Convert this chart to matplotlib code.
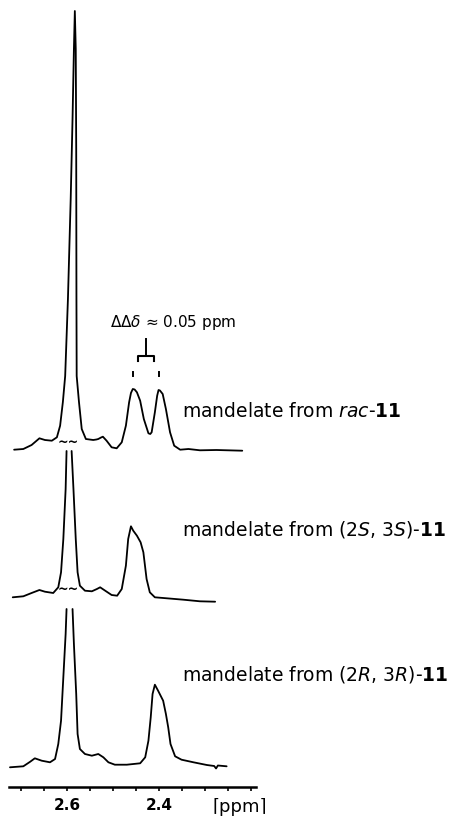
import numpy as np
import matplotlib
matplotlib.use("Agg")
import matplotlib.pyplot as plt

nan = np.nan

# spectrum from rac-11 (chemical shift in ppm, intensity above baseline)
ppm_rac = [2.715, 2.695, 2.677, 2.660, 2.648, 2.633, 2.622, 2.615, 2.609, 2.604,
           2.598, 2.592, 2.588, 2.585, 2.583, 2.581, 2.580, 2.5795, 2.579, 2.574,
           2.568, 2.559, 2.543, 2.536, 2.532, 2.526, 2.522, 2.514, 2.503, 2.492,
           2.481, 2.472, 2.465, 2.461, 2.457, 2.453, 2.448, 2.441, 2.433, 2.423,
           2.419, 2.416, 2.409, 2.404, 2.401, 2.398, 2.392, 2.385, 2.376, 2.367,
           2.354, 2.336, 2.311, 2.275, 2.219]
int_rac = [0.3, 1, 5, 11.7, 10, 9.3, 12.7, 24.3, 48, 74,
           151, 251, 331, 401, 439, 401, 301, 151, 74, 48,
           21, 11, 10, 10.5, 11, 12.5, 13.3, 9.3, 2.7, 1.7,
           7.7, 24.3, 47.7, 57, 61, 60.5, 57.7, 49.3, 31, 16.7,
           16, 17.7, 37.7, 54.3, 60, 59.5, 56, 41, 17.7, 4.3,
           0.3, 1, -0.3, 0, -0.7]

# spectrum from (2S,3S)-11, big peak cut off (nan = gap)
ppm_ss = [2.718, 2.695, 2.677, 2.660, 2.648, 2.630, 2.619, 2.613, 2.608, 2.603,
          2.601, nan, 2.590, 2.586, 2.581, 2.577, 2.572, 2.561, 2.546, 2.535,
          2.528, 2.517, 2.503, 2.491, 2.481, 2.472, 2.467, 2.461, 2.456, 2.448,
          2.440, 2.434, 2.427, 2.420, 2.409, 2.383, 2.347, 2.311, 2.278]
int_ss = [-0.3, 0.7, 4, 7, 5.3, 4, 9.7, 24.7, 58, 108,
          146, nan, 146, 108, 58, 24.7, 11.3, 6.3, 5.7, 8,
          9.7, 6.3, 2, 1.3, 8, 31.3, 58, 70.7, 66.3, 61.3,
          54.7, 44.7, 18, 4.7, -0.3, -1.3, -2.7, -4.3, -4.7]

# spectrum from (2R,3R)-11
ppm_rr = [2.724, 2.695, 2.680, 2.670, 2.655, 2.637, 2.626, 2.619, 2.613, 2.608,
          2.603, 2.601, nan, 2.588, 2.585, 2.580, 2.577, 2.572, 2.561, 2.546,
          2.532, 2.521, 2.510, 2.496, 2.470, 2.441, 2.430, 2.423, 2.418, 2.414,
          2.409, 2.402, 2.391, 2.385, 2.380, 2.375, 2.365, 2.351, 2.325, 2.296,
          2.280, 2.276, 2.272, 2.253]
int_rr = [-0.3, 0.7, 5.3, 8.7, 6.3, 4.7, 8, 23, 46.3, 89.7,
          133, 158, nan, 158, 123, 73, 33, 18, 13, 11.3,
          13, 9.7, 4.7, 2.3, 2.3, 3.7, 9.7, 26.3, 49.7, 73,
          82.3, 76.3, 66.3, 53, 39.7, 23, 10.7, 7.3, 4.7, 2,
          1, -1.5, 1.5, 0.7]

labels = [r"mandelate from $\mathit{rac}$-$\mathbf{11}$",
          r"mandelate from (2$\mathit{S}$, 3$\mathit{S}$)-$\mathbf{11}$",
          r"mandelate from (2$\mathit{R}$, 3$\mathit{R}$)-$\mathbf{11}$"]

doublet_ppm = [2.457, 2.400]
major_ticks = [2.6, 2.4]
major_labels = ["2.6", "2.4"]
minor_ticks = [2.70, 2.65, 2.60, 2.55, 2.50, 2.45, 2.40, 2.35, 2.30, 2.25, 2.20]

# layout (vertical stacking, in figure-pixel-like units)
offsets = [369, 222, 52]
label_y = [34, 62, 87]
cut_mark_ppm = 2.598

fig = plt.figure(figsize=(4.56, 8.2), dpi=100)
ax = fig.add_axes([0, 0, 1, 1])
ax.set_xlim(2.7457, 1.7543)
ax.set_ylim(0, 820)

spectra = [(ppm_rac, int_rac), (ppm_ss, int_ss), (ppm_rr, int_rr)]
for (x, y), off, lab, ly in zip(spectra, offsets, labels, label_y):
    ax.plot(x, np.array(y) + off, color="black", lw=1.3,
            solid_joinstyle="round", solid_capstyle="round")
    ax.text(2.35, off + ly, lab, fontsize=13.5, ha="left", va="baseline")

# cut marks over truncated peaks
for off in offsets[:2]:
    ax.text(cut_mark_ppm, off + 9, "~~", fontsize=9, fontweight="bold",
            ha="center", va="center")

# splitting annotation
left, right = doublet_ppm
mid = (left + right) / 2
inset = (left - right) * 0.2
top = offsets[0]
ax.plot([left, left], [top + 74, top + 78], color="black", lw=1.4)
ax.plot([right, right], [top + 74, top + 78], color="black", lw=1.4)
ax.plot([left - inset, left - inset, right + inset, right + inset],
        [top + 89, top + 94, top + 94, top + 89], color="black", lw=1.5)
ax.plot([mid, mid], [top + 94, top + 111], color="black", lw=1.4)
ax.text(2.5065, top + 124, r"$\mathit{\Delta\Delta\delta}$ ≈ 0.05 ppm",
        fontsize=11, ha="left", va="baseline")

# ppm axis
for s in ["top", "left", "right"]:
    ax.spines[s].set_visible(False)
ax.spines["bottom"].set_position(("data", 32))
ax.spines["bottom"].set_bounds(2.726, 2.19)
ax.spines["bottom"].set_linewidth(1.8)
ax.set_yticks([])
ax.set_xticks(major_ticks)
ax.set_xticklabels(major_labels, fontsize=11, fontweight="bold")
ax.set_xticks(minor_ticks, minor=True)
ax.tick_params(axis="x", which="both", direction="out", length=3, width=1.2, pad=4)
ax.text(2.283, 13, "⌈ppm⌉", fontsize=13, ha="left", va="center")

fig.savefig("out.png", dpi=100)
